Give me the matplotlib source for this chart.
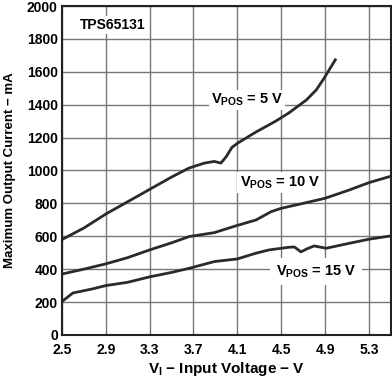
import matplotlib
matplotlib.use("Agg")
import matplotlib.pyplot as plt

plt.rcParams["font.family"] = ["Liberation Sans", "DejaVu Sans"]
plt.rcParams["font.weight"] = "bold"
plt.rcParams["mathtext.fontset"] = "custom"
plt.rcParams["mathtext.rm"] = "Liberation Sans:bold"
plt.rcParams["mathtext.it"] = "Liberation Sans:bold"
plt.rcParams["mathtext.bf"] = "Liberation Sans:bold"

# Data
v5_x = [2.5, 2.7, 2.9, 3.1, 3.3, 3.5, 3.66, 3.8, 3.89, 3.95, 4.0, 4.05, 4.1, 4.27, 4.45, 4.57, 4.73, 4.82, 4.89, 5.0]
v5_y = [580, 650, 735, 810, 885, 960, 1015, 1045, 1055, 1045, 1085, 1140, 1165, 1234, 1300, 1350, 1429, 1490, 1560, 1680]

v10_x = [2.5, 2.7, 2.9, 3.1, 3.3, 3.5, 3.66, 3.89, 4.09, 4.27, 4.41, 4.5, 4.7, 4.9, 5.12, 5.3, 5.5]
v10_y = [370, 400, 432, 470, 517, 560, 598, 622, 664, 699, 750, 770, 800, 831, 881, 926, 965]

v15_x = [2.5, 2.6, 2.78, 2.9, 3.1, 3.3, 3.5, 3.66, 3.89, 4.1, 4.27, 4.39, 4.57, 4.62, 4.68, 4.74, 4.8, 4.91, 5.12, 5.3, 5.5]
v15_y = [203, 255, 280, 300, 320, 353, 380, 405, 446, 462, 497, 517, 533, 535, 505, 525, 541, 527, 557, 582, 602]

xticks = [2.5, 2.9, 3.3, 3.7, 4.1, 4.5, 4.9, 5.3]
yticks = list(range(0, 2001, 200))

fig = plt.figure(figsize=(3.92, 3.78), dpi=100)
ax = fig.add_axes([0.158, 0.114, 0.839, 0.870])

line_kw = dict(color="#2a2a2a", lw=2, solid_capstyle="butt")
ax.plot(v5_x, v5_y, **line_kw)
ax.plot(v10_x, v10_y, **line_kw)
ax.plot(v15_x, v15_y, **line_kw)

ax.set_xlim(2.5, 5.5)
ax.set_ylim(0, 2000)
ax.set_xticks(xticks)
ax.set_yticks(yticks)
ax.set_xticklabels([f"{t:.1f}" for t in xticks], fontsize=10, fontweight="bold")
ax.set_yticklabels([str(t) for t in yticks], fontsize=10, fontweight="bold")
ax.tick_params(axis="x", length=0, pad=6)
ax.tick_params(axis="y", length=0, pad=3)
ax.grid(True, color="#777777", lw=1)
ax.set_axisbelow(True)
for s in ax.spines.values():
    s.set_linewidth(1.5)
    s.set_color("#222222")

ax.set_xlabel(r"$V_I$ − Input Voltage − V", fontsize=11, fontweight="bold", labelpad=2)
ax.set_ylabel("Maximum Output Current − mA", fontsize=9.5, fontweight="bold", labelpad=8)

box = dict(facecolor="white", edgecolor="none", pad=1.5)
ax.text(2.66, 1885, "TPS65131", fontsize=10, fontweight="bold", va="center", ha="left", bbox=box)
ax.text(3.86, 1430, r"$V_{POS}$ = 5 V", fontsize=10.5, va="center", ha="left", bbox=box)
ax.text(4.12, 926, r"$V_{POS}$ = 10 V", fontsize=10.5, va="center", ha="left", bbox=box)
ax.text(4.45, 385, r"$V_{POS}$ = 15 V", fontsize=10.5, va="center", ha="left",
        bbox=dict(facecolor="white", edgecolor="none", pad=4))

fig.savefig("out.png", dpi=100)
